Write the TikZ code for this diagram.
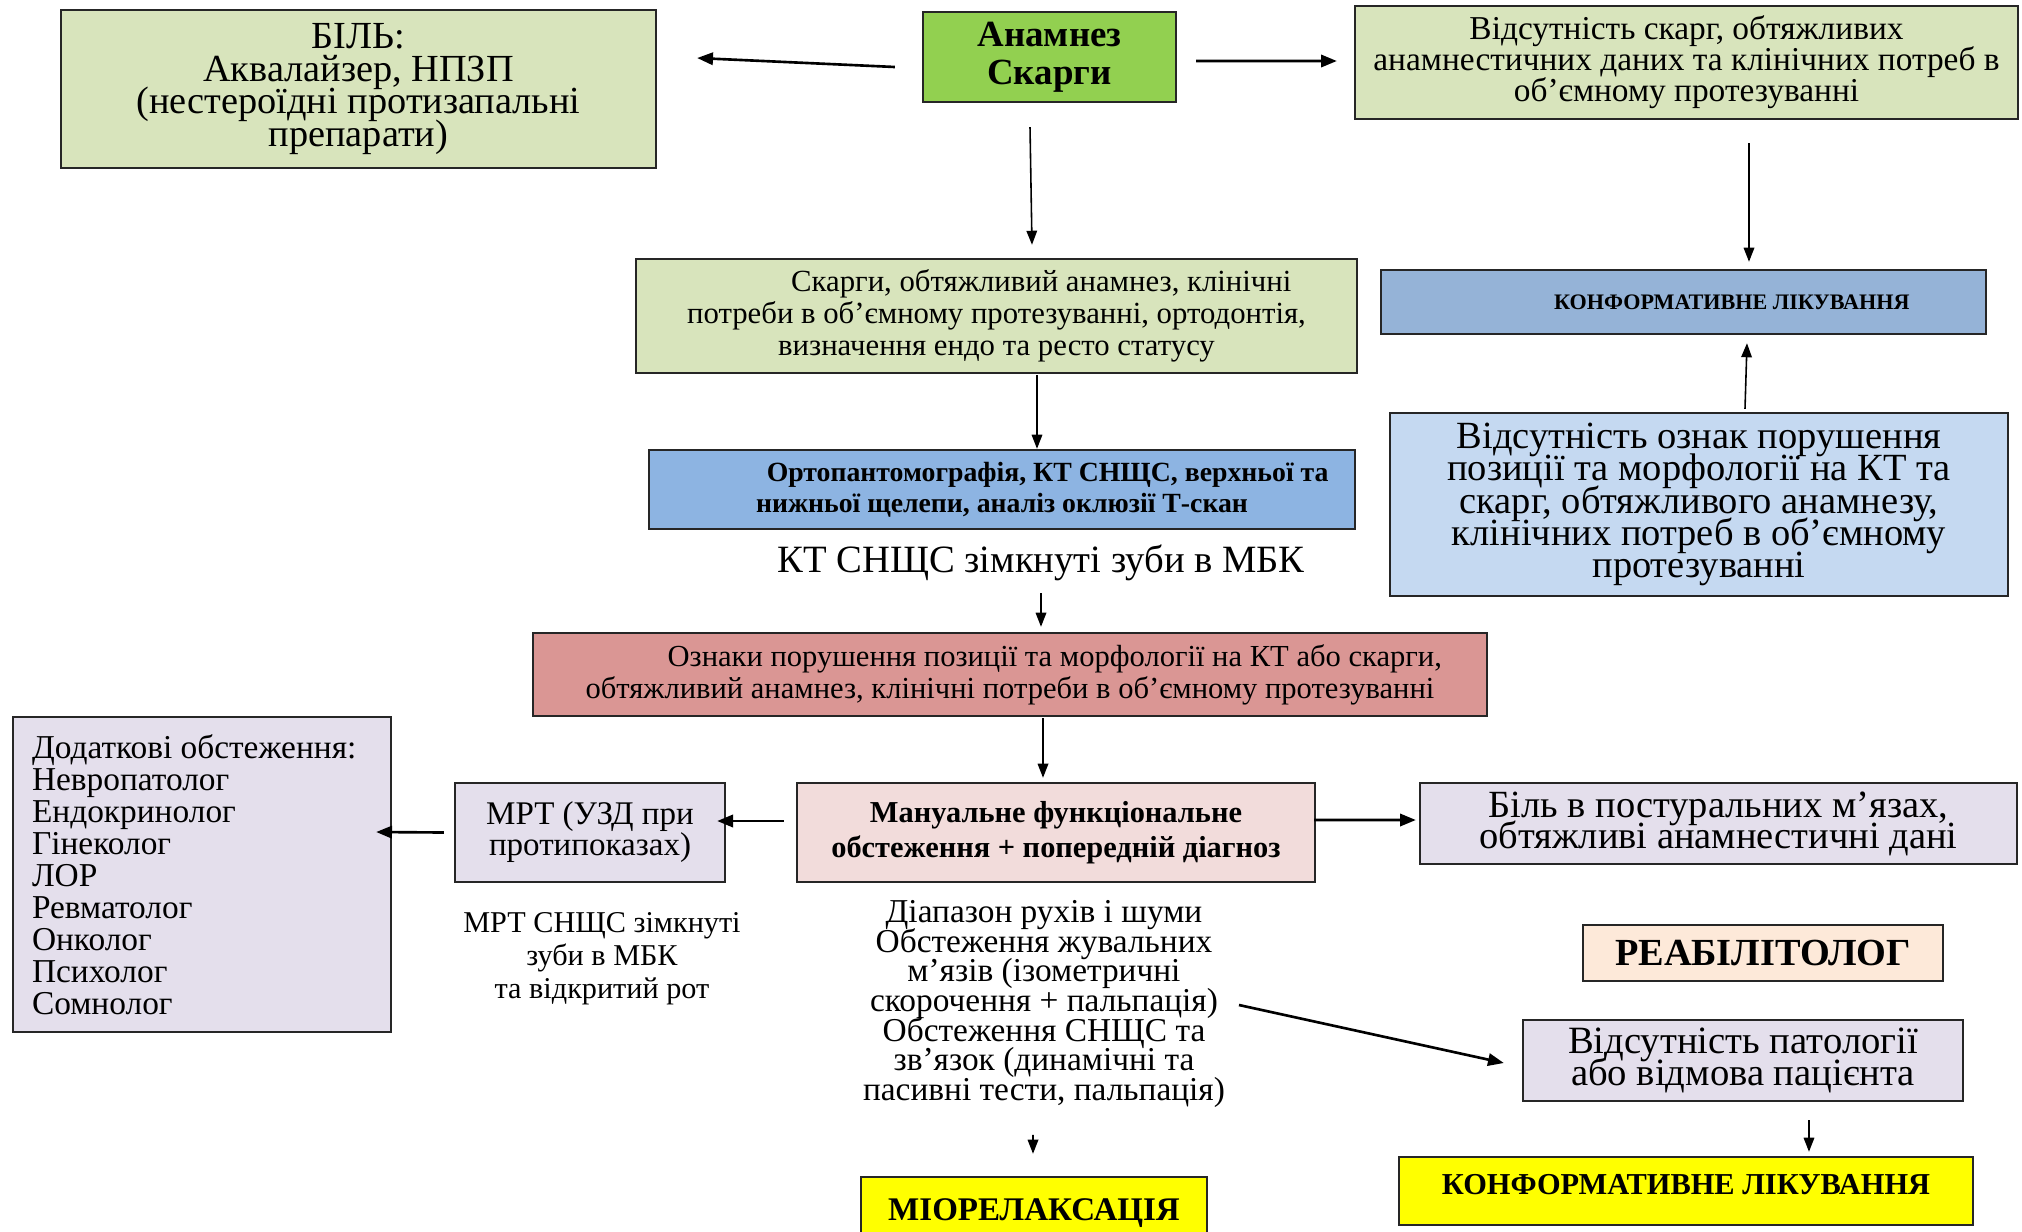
\documentclass[tikz,border=0pt]{standalone}
\usepackage{fontspec}
\setmainfont{Liberation Serif}
\usetikzlibrary{arrows.meta, positioning}

\definecolor{olivebg}{HTML}{D8E4BC}
\definecolor{anamgreen}{HTML}{92D050}
\definecolor{konfblue}{HTML}{95B3D7}
\definecolor{ortoblue}{HTML}{8DB4E2}
\definecolor{paleblue}{HTML}{C5D9F1}
\definecolor{rosered}{HTML}{DA9694}
\definecolor{lavender}{HTML}{E4DFEC}
\definecolor{palepink}{HTML}{F2DCDB}
\definecolor{peach}{HTML}{FDE9D9}
\definecolor{brightyellow}{HTML}{FFFF00}

\setlength{\lineskiplimit}{-100pt}
\setlength{\lineskip}{0pt}

\tikzset{
  box/.style={draw=black!85, line width=1.4pt, align=center, inner sep=0pt},
  plain/.style={align=center, inner sep=0pt},
  arr/.style={-{Triangle[length=8pt,width=6pt]}, line width=0.9pt},
  thickarr/.style={-{Triangle[length=9pt,width=7pt]}, line width=1.5pt}
}

\begin{document}
\begin{tikzpicture}[x=0.02cm, y=-0.02cm]
            \useasboundingbox (0,0) rectangle (2022,1231);

            % Top row
            \node (bil) [box, fill=olivebg,
                minimum width=11.9cm, minimum height=3.16cm,
                font=\fontsize{21.8}{18.6}\selectfont] at (358.5,89)
                {БІЛЬ:\\Аквалайзер, НПЗП\\(нестероїдні протизапальні\\препарати)};

            \node (anam) [box, fill=anamgreen,
                minimum width=5.06cm, minimum height=1.8cm,
                font=\fontsize{21}{21.5}\selectfont\bfseries] at (1049.5,57)
                {Анамнез\\Скарги};

            \node (absn) [box, fill=olivebg,
                minimum width=13.26cm, minimum height=2.26cm,
                font=\fontsize{19}{17.6}\selectfont] at (1686.5,62.5)
                {Відсутність скарг, обтяжливих\\анамнестичних даних та клінічних потреб в\\об’ємному протезуванні};

            % Second row
            \node (skargy) [box, fill=olivebg,
                minimum width=14.42cm, minimum height=2.28cm,
                font=\fontsize{17.5}{18.2}\selectfont] at (996.5,316)
                {\hspace*{51pt}Скарги, обтяжливий анамнез, клінічні\\потреби в об’ємному протезуванні, ортодонтія,\\визначення ендо та ресто статусу};

            \node (konf1) [box, fill=konfblue,
                minimum width=12.1cm, minimum height=1.28cm,
                font=\fontsize{12.6}{14}\selectfont\bfseries] at (1683.5,302)
                {\hspace*{55pt}КОНФОРМАТИВНЕ ЛІКУВАННЯ};

            \node (orto) [box, fill=ortoblue,
                minimum width=14.12cm, minimum height=1.58cm,
                font=\fontsize{15.8}{17.6}\selectfont\bfseries] at (1002,489.5)
                {\hspace*{52pt}Ортопантомографія, КТ СНЩС, верхньої та\\нижньої щелепи, аналіз оклюзії Т-скан};

            \node (kt) [plain, font=\fontsize{22}{24}\selectfont] at (1041,563)
                {КТ СНЩС зімкнуті зуби в МБК};

            \node (absozn) [box, fill=paleblue,
                minimum width=12.36cm, minimum height=3.66cm,
                font=\fontsize{21.9}{18.3}\selectfont] at (1699,504.5)
                {Відсутність ознак порушення\\позиції та морфології на КТ та\\скарг, обтяжливого анамнезу,\\клінічних потреб в об’ємному\\протезуванні};

            \node (oznaky) [box, fill=rosered,
                minimum width=19.08cm, minimum height=1.66cm,
                font=\fontsize{17.4}{18.2}\selectfont] at (1010,674.5)
                {\hspace*{51pt}Ознаки порушення позиції та морфології на КТ або скарги,\\обтяжливий анамнез, клінічні потреби в об’ємному протезуванні};

            % Examination row
            \node (dod) [box, fill=lavender, align=flush left,
                text width=6.8cm, inner xsep=0.38cm, minimum height=6.3cm,
                font=\fontsize{19}{18.2}\selectfont] at (202,874.5)
                {Додаткові обстеження:\\Невропатолог\\Ендокринолог\\Гінеколог\\ЛОР\\Ревматолог\\Онколог\\Психолог\\Сомнолог};

            \node (mrt) [box, fill=lavender,
                minimum width=5.4cm, minimum height=1.98cm,
                font=\fontsize{18.8}{17.6}\selectfont] at (590,832.5)
                {МРТ (УЗД при\\протипоказах)};

            \node (manual) [box, fill=palepink,
                minimum width=10.36cm, minimum height=1.98cm,
                font=\fontsize{17.3}{20}\selectfont\bfseries] at (1056,832.5)
                {Мануальне функціональне\\обстеження + попередній діагноз};

            \node (postur) [box, fill=lavender,
                minimum width=11.94cm, minimum height=1.62cm,
                font=\fontsize{21.9}{17.6}\selectfont] at (1718.5,823.5)
                {Біль в постуральних м’язах,\\обтяжливі анамнестичні дані};

            \node (mrttext) [plain, font=\fontsize{17.2}{18.8}\selectfont] at (602,959)
                {МРТ СНЩС зімкнуті\\зуби в МБК\\та відкритий рот};

            \node (diap) [plain, font=\fontsize{19}{16.8}\selectfont] at (1044,1004)
                {Діапазон рухів і шуми\\Обстеження жувальних\\м’язів (ізометричні\\скорочення + пальпація)\\Обстеження СНЩС та\\зв’язок (динамічні та\\пасивні тести, пальпація)};

            % Bottom row
            \node (reab) [box, fill=peach,
                minimum width=7.2cm, minimum height=1.12cm,
                font=\fontsize{21.8}{20}\selectfont\bfseries] at (1763,953)
                {РЕАБІЛІТОЛОГ};

            \node (vidpat) [box, fill=lavender,
                minimum width=8.8cm, minimum height=1.62cm,
                font=\fontsize{22}{18.2}\selectfont] at (1743,1060.5)
                {Відсутність патології\\або відмова пацієнта};

            \node (mio) [box, fill=brightyellow,
                minimum width=6.92cm, minimum height=1.46cm,
                font=\fontsize{18.8}{18}\selectfont\bfseries] at (1034,1213.5)
                {МІОРЕЛАКСАЦІЯ};

            \node (konf2) [box, fill=brightyellow,
                minimum width=11.48cm, minimum height=1.36cm,
                font=\fontsize{17.3}{18}\selectfont\bfseries] at (1686,1191)
                {КОНФОРМАТИВНЕ ЛІКУВАННЯ\rule[-8pt]{0pt}{1pt}};

            % Arrows
            \draw [thickarr] ([xshift=-0.54cm,yshift=-0.2cm]anam.west) -- ([xshift=0.8cm,yshift=0.62cm]bil.east);
            \draw [thickarr] ([xshift=0.38cm,yshift=-0.08cm]anam.east) -- ([xshift=-0.34cm,yshift=0.03cm]absn.west);
            \draw [arr] ([xshift=-0.39cm,yshift=-0.48cm]anam.south) -- ([xshift=0.71cm,yshift=0.26cm]skargy.north);
            \draw [arr] ([xshift=1.25cm,yshift=-0.46cm]absn.south) -- ([xshift=1.31cm,yshift=0.14cm]konf1.north);
            \draw [arr] ([xshift=0.81cm,yshift=-0.02cm]skargy.south) -- ([xshift=0.7cm]orto.north);
            \draw [arr] ([xshift=0.92cm,yshift=0.06cm]absozn.north) -- ([xshift=1.27cm,yshift=-0.16cm]konf1.south);
            \draw [arr] ([yshift=-0.6cm]kt.center) -- ([xshift=0.62cm,yshift=0.1cm]oznaky.north);
            \draw [arr] ([xshift=0.66cm,yshift=-0.02cm]oznaky.south) -- ([xshift=-0.26cm,yshift=0.08cm]manual.north);
            \draw [thickarr] ([xshift=-0.24cm,yshift=0.23cm]manual.west) -- ([xshift=-0.18cm,yshift=0.23cm]mrt.east);
            \draw [thickarr] ([xshift=-0.2cm]mrt.west) -- ([xshift=-0.32cm,yshift=0.85cm]dod.east);
            \draw [thickarr] ([xshift=-0.04cm,yshift=0.25cm]manual.east) -- ([xshift=-0.06cm,yshift=0.07cm]postur.west);
            \draw [thickarr] ([xshift=3.9cm,yshift=-0.02cm]diap.center) -- ([xshift=-0.36cm,yshift=-0.05cm]vidpat.west);
            \draw [arr] ([xshift=-0.22cm,yshift=-2.62cm]diap.center) -- ([xshift=-0.02cm,yshift=0.44cm]mio.north);
            \draw [arr] ([xshift=1.32cm,yshift=-0.36cm]vidpat.south) -- ([xshift=2.46cm,yshift=0.08cm]konf2.north);
\end{tikzpicture}
\end{document}
